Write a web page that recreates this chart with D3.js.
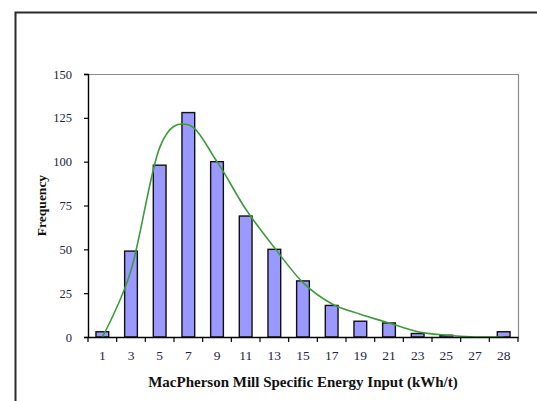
<!DOCTYPE html>
<html>
<head>
<meta charset="utf-8">
<script src="https://cdn.jsdelivr.net/npm/d3@7"></script>
<style>
  html, body { margin: 0; padding: 0; background: #fff; }
  svg { display: block; }
</style>
</head>
<body>
<svg id="chart" width="537" height="401"></svg>
<script>
// Histogram bins of specific energy input (kWh/t)
const categories = ["1", "3", "5", "7", "9", "11", "13", "15", "17", "19", "21", "23", "25", "27", "28"];
// Observed frequency per bin
const frequency = [3, 49, 98, 128, 100, 69, 50, 32, 18, 9, 8, 2, 1, 0, 3];
// Fitted distribution evaluated at each bin
const fitted = [0, 38, 108, 121, 100, 73, 51, 31, 19, 13, 8, 3, 1, 0, 0];
const yTicks = [0, 25, 50, 75, 100, 125, 150];

const svg = d3.select("#chart");
const plot = { left: 88, right: 518, top: 74, bottom: 337 };
const serif = "'Liberation Serif', 'Times New Roman', serif";

// Outer frame
svg.append("path")
  .attr("d", "M15.5,401 L15.5,12.5 L537,12.5")
  .attr("fill", "none")
  .attr("stroke", "#2b2b2b")
  .attr("stroke-width", 2);

const y = d3.scaleLinear().domain([0, 150]).range([plot.bottom, plot.top]);
const xBand = d3.scaleBand().domain(categories).range([plot.left, plot.right]).padding(0);
const xBar = d3.scaleBand().domain(categories).range([plot.left, plot.right])
  .paddingInner(0.556).paddingOuter(0.278);

// Plot area border (top and right in grey)
svg.append("path")
  .attr("d", `M${plot.left},${plot.top + 0.5} L${plot.right + 0.5},${plot.top + 0.5} L${plot.right + 0.5},${plot.bottom}`)
  .attr("fill", "none")
  .attr("stroke", "#8c8c8c")
  .attr("stroke-width", 1.2);

// Bars
svg.append("g")
  .selectAll("rect")
  .data(categories)
  .join("rect")
  .attr("x", c => xBar(c))
  .attr("width", xBar.bandwidth())
  .attr("y", (c, i) => y(frequency[i]))
  .attr("height", (c, i) => y(0) - y(frequency[i]))
  .attr("fill", "#9999ff")
  .attr("stroke", "#111")
  .attr("stroke-width", 1.4);

// Fitted curve
const line = d3.line()
  .x((d, i) => xBand(categories[i]) + xBand.bandwidth() / 2)
  .y(d => y(d))
  .curve(d3.curveCatmullRom.alpha(0));
svg.append("path")
  .datum(fitted)
  .attr("d", line)
  .attr("fill", "none")
  .attr("stroke", "#3d9b3d")
  .attr("stroke-width", 1.6);

// Y axis
const yAxis = svg.append("g")
  .attr("transform", `translate(${plot.left},0)`)
  .call(d3.axisLeft(y).tickValues(yTicks).tickSize(4).tickPadding(12));
yAxis.select(".domain").attr("stroke", "#000").attr("stroke-width", 1.4);
yAxis.selectAll(".tick line").attr("stroke", "#000").attr("stroke-width", 1.2);
yAxis.selectAll(".tick text")
  .attr("font-family", serif)
  .attr("font-size", 12.5)
  .attr("fill", "#23233f");

// X axis: labels centred on bins, ticks at bin boundaries
const xAxis = svg.append("g")
  .attr("transform", `translate(0,${plot.bottom})`)
  .call(d3.axisBottom(xBand).tickSize(0).tickPadding(13));
xAxis.select(".domain").attr("stroke", "#000").attr("stroke-width", 1.4);
xAxis.selectAll(".tick text")
  .attr("font-family", serif)
  .attr("font-size", 13.5)
  .attr("fill", "#23233f");
const bounds = categories.map(c => xBand(c)).concat([plot.right]);
xAxis.append("g")
  .selectAll("line")
  .data(bounds)
  .join("line")
  .attr("x1", d => d).attr("x2", d => d)
  .attr("y1", 0).attr("y2", 5)
  .attr("stroke", "#000")
  .attr("stroke-width", 1.2);

// Axis titles
svg.append("text")
  .attr("x", (plot.left + plot.right) / 2)
  .attr("y", 387)
  .attr("text-anchor", "middle")
  .attr("font-family", serif)
  .attr("font-weight", "bold")
  .attr("font-size", 15)
  .attr("fill", "#111")
  .text("MacPherson Mill Specific Energy Input (kWh/t)");

svg.append("text")
  .attr("transform", `translate(46,${(plot.top + plot.bottom) / 2}) rotate(-90)`)
  .attr("text-anchor", "middle")
  .attr("font-family", serif)
  .attr("font-weight", "bold")
  .attr("font-size", 13.5)
  .attr("fill", "#111")
  .text("Frequency");
</script>
</body>
</html>
